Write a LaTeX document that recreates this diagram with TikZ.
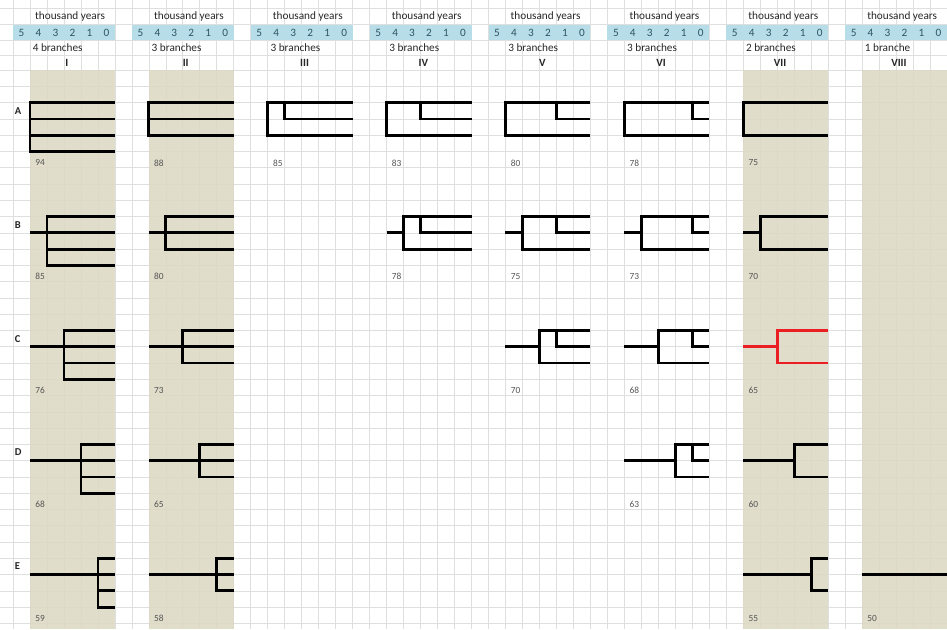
\documentclass[tikz,border=0pt]{standalone}
\usepackage{fontspec}
\setmainfont{Carlito}
\definecolor{gridgray}{RGB}{222,224,224}
\definecolor{headblue}{RGB}{183,222,232}
\definecolor{tanfill}{RGB}{221,217,196}
\definecolor{digitblue}{RGB}{45,85,100}
\definecolor{labelgray}{RGB}{85,85,85}
\definecolor{forkred}{RGB}{235,30,36}
\tikzset{
  branch/.style={line width=2.4pt},
  redbranch/.style={branch,draw=forkred},
  headtxt/.style={inner sep=0pt,text=black!85,font=\fontsize{9.6}{10}\selectfont},
  digit/.style={inner sep=0pt,text=digitblue,font=\fontsize{9.6}{10}\selectfont},
  romantxt/.style={inner sep=0pt,text=black!85,font=\fontsize{9.4}{10}\selectfont\bfseries},
  rowtxt/.style={inner sep=0pt,anchor=west,text=black!85,font=\fontsize{9}{10}\selectfont\bfseries},
  numtxt/.style={inner sep=0pt,anchor=west,text=labelgray,font=\fontsize{8}{9}\selectfont}
}
\begin{document}
\begin{tikzpicture}[x=0.5094cm,y=-0.4881cm]
  \useasboundingbox (-1.767,-0.3135) rectangle (54,38.35);
  % sheet grid
  \foreach \c in {-1,...,54} \draw[gridgray,line width=0.6pt] (\c,-0.3135) -- (\c,38.35);
  \foreach \r in {0.2,1.2,2.15,3.07} \draw[gridgray,line width=0.6pt] (-1.767,\r) -- (54,\r);
  \foreach \r in {4,...,38} \draw[gridgray,line width=0.6pt] (-1.767,\r) -- (54,\r);
  % shaded columns
  \foreach \g in {0,1,6,7} \fill[tanfill,opacity=0.9] (7*\g,4) rectangle (7*\g+5,38.35);
  % headers
  \foreach \g in {0,...,7} {
    \fill[headblue] (7*\g-1,1.2) rectangle (7*\g+5,2.15);
    \node[headtxt] (ty\g) at (7*\g+2.36,0.7) {thousand years};
    \foreach \i/\t in {0/5,1/4,2/3,3/2,4/1,5/0}
      \node[digit] (d\g\i) at (7*\g-0.5+\i,1.68) {\t};
  }
  \foreach \g/\nb in {0/4 branches,1/3 branches,2/3 branches,3/3 branches,4/3 branches,5/3 branches,6/2 branches,7/1 branche}
    \node[headtxt,anchor=west] (nb\g) at (7*\g+0.15,2.61) {\nb};
  \foreach \g/\rn in {0/I,1/II,2/III,3/IV,4/V,5/VI,6/VII,7/VIII}
    \node[romantxt] (rn\g) at (7*\g+2.17,3.53) {\rn};
  \foreach \r/\k in {0/A,1/B,2/C,3/D,4/E}
    \node[rowtxt] (row\k) at (-0.9,6.5+7*\r) {\k};

  % I
  \begin{scope}
    \draw[branch] (5,6) -| (0,9) -- (5,9); \draw[branch] (0,7) -- (5,7); \draw[branch] (0,8) -- (5,8);
    \draw[branch] (5,13) -| (1,16) -- (5,16); \draw[branch] (0,14) -- (5,14); \draw[branch] (1,15) -- (5,15);
    \draw[branch] (5,20) -| (2,23) -- (5,23); \draw[branch] (0,21) -- (5,21); \draw[branch] (2,22) -- (5,22);
    \draw[branch] (5,27) -| (3,30) -- (5,30); \draw[branch] (0,28) -- (5,28); \draw[branch] (3,29) -- (5,29);
    \draw[branch] (5,34) -| (4,37) -- (5,37); \draw[branch] (0,35) -- (5,35); \draw[branch] (4,36) -- (5,36);
    \foreach \r/\v in {0/94,1/85,2/76,3/68,4/59} \node[numtxt] (nI\r) at (0.3,9.7+7*\r) {\v};
  \end{scope}
  % II
  \begin{scope}[shift={(7,0)}]
    \draw[branch] (5,6) -| (0,8) -- (5,8); \draw[branch] (0,7) -- (5,7);
    \draw[branch] (5,13) -| (1,15) -- (5,15); \draw[branch] (0,14) -- (5,14);
    \draw[branch] (5,20) -| (2,22) -- (5,22); \draw[branch] (0,21) -- (5,21);
    \draw[branch] (5,27) -| (3,29) -- (5,29); \draw[branch] (0,28) -- (5,28);
    \draw[branch] (5,34) -| (4,36) -- (5,36); \draw[branch] (0,35) -- (5,35);
    \foreach \r/\v in {0/88,1/80,2/73,3/65,4/58} \node[numtxt] (nII\r) at (0.3,9.7+7*\r) {\v};
  \end{scope}
  % III
  \begin{scope}[shift={(14,0)}]
    \draw[branch] (5,6) -| (0,8) -- (5,8); \draw[branch] (5,7) -| (1,6);
    \node[numtxt] (nIII0) at (0.3,9.7) {85};
  \end{scope}
  % IV
  \begin{scope}[shift={(21,0)}]
    \draw[branch] (5,6) -| (0,8) -- (5,8); \draw[branch] (5,7) -| (2,6);
    \draw[branch] (5,13) -| (1,15) -- (5,15); \draw[branch] (5,14) -| (2,13); \draw[branch] (0,14) -- (1,14);
    \foreach \r/\v in {0/83,1/78} \node[numtxt] (nIV\r) at (0.3,9.7+7*\r) {\v};
  \end{scope}
  % V
  \begin{scope}[shift={(28,0)}]
    \draw[branch] (5,6) -| (0,8) -- (5,8); \draw[branch] (5,7) -| (3,6);
    \draw[branch] (5,13) -| (1,15) -- (5,15); \draw[branch] (5,14) -| (3,13); \draw[branch] (0,14) -- (1,14);
    \draw[branch] (5,20) -| (2,22) -- (5,22); \draw[branch] (5,21) -| (3,20); \draw[branch] (0,21) -- (2,21);
    \foreach \r/\v in {0/80,1/75,2/70} \node[numtxt] (nV\r) at (0.3,9.7+7*\r) {\v};
  \end{scope}
  % VI
  \begin{scope}[shift={(35,0)}]
    \draw[branch] (5,6) -| (0,8) -- (5,8); \draw[branch] (5,7) -| (4,6);
    \draw[branch] (5,13) -| (1,15) -- (5,15); \draw[branch] (5,14) -| (4,13); \draw[branch] (0,14) -- (1,14);
    \draw[branch] (5,20) -| (2,22) -- (5,22); \draw[branch] (5,21) -| (4,20); \draw[branch] (0,21) -- (2,21);
    \draw[branch] (5,27) -| (3,29) -- (5,29); \draw[branch] (5,28) -| (4,27); \draw[branch] (0,28) -- (3,28);
    \foreach \r/\v in {0/78,1/73,2/68,3/63} \node[numtxt] (nVI\r) at (0.3,9.7+7*\r) {\v};
  \end{scope}
  % VII
  \begin{scope}[shift={(42,0)}]
    \draw[branch] (5,6) -| (0,8) -- (5,8);
    \draw[branch] (5,13) -| (1,15) -- (5,15); \draw[branch] (0,14) -- (1,14);
    \draw[redbranch] (5,20) -| (2,22) -- (5,22); \draw[redbranch] (0,21) -- (2,21);
    \draw[branch] (5,27) -| (3,29) -- (5,29); \draw[branch] (0,28) -- (3,28);
    \draw[branch] (5,34) -| (4,36) -- (5,36); \draw[branch] (0,35) -- (4,35);
    \foreach \r/\v in {0/75,1/70,2/65,3/60,4/55} \node[numtxt] (nVII\r) at (0.3,9.7+7*\r) {\v};
  \end{scope}
  % VIII
  \begin{scope}[shift={(49,0)}]
    \draw[branch] (0,35) -- (5,35);
    \node[numtxt] (nVIII4) at (0.3,37.7) {50};
  \end{scope}
\end{tikzpicture}
\end{document}
